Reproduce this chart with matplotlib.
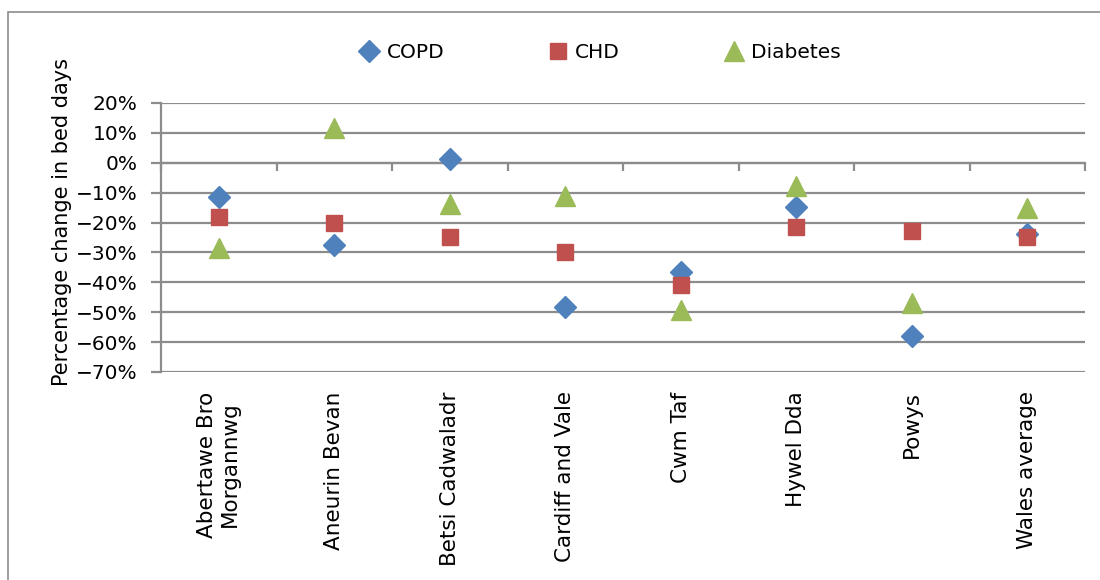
import numpy as np
import matplotlib.pyplot as plt
from matplotlib.patches import Rectangle
from matplotlib.ticker import PercentFormatter

#======data=========#
boards = ["Abertawe Bro\nMorgannwg", "Aneurin Bevan", "Betsi Cadwaladr", "Cardiff and Vale",
          "Cwm Taf", "Hywel Dda", "Powys", "Wales average"]
copd = [-11.4, -27.4, 1.3, -48.3, -36.5, -14.7, -57.8, -23.7]
chd = [-18.2, -20.0, -24.7, -30.0, -41.0, -21.4, -22.9, -24.9]
diabetes = [-28.4, 11.8, -13.7, -11.0, -49.3, -7.7, -47.0, -15.0]

yticks = np.arange(-70, 21, 10)

#======style=========#
plt.rcParams['font.family'] = ['DejaVu Sans']
grid_col = '#8c8c8c'

fig = plt.figure(figsize=(11, 5.8), dpi=100)
ax = fig.add_axes([161/1100, 1-372/580, (1085-161)/1100, (372-103)/580])

x = np.arange(len(boards))
ax.plot(x, copd, linestyle='none', marker='D', markersize=11.5, color='#4F81BD', label='COPD', zorder=3)
ax.plot(x, chd, linestyle='none', marker='s', markersize=12, color='#C0504D', label='CHD', zorder=3)
ax.plot(x, diabetes, linestyle='none', marker='^', markersize=15, color='#9BBB59', label='Diabetes', zorder=3)

ax.set_xlim(-0.5, len(boards)-0.5)
ax.set_ylim(-70, 20)
ax.set_yticks(yticks)
ax.yaxis.set_major_formatter(PercentFormatter(decimals=0))
ax.grid(axis='y', color=grid_col, linewidth=1.6)
ax.set_axisbelow(True)
ax.tick_params(axis='y', length=7, width=1.6, color=grid_col, labelsize=14.5, pad=10)

ax.set_xticks(x)
ax.set_xticklabels(boards, rotation=90, fontsize=15.5, multialignment='center')
ax.tick_params(axis='x', length=0, pad=14)

for s in ['top', 'right', 'bottom']:
    ax.spines[s].set_visible(False)
ax.spines['left'].set_color(grid_col)
ax.spines['left'].set_linewidth(1.6)

# category axis crossing at zero
sec = ax.secondary_xaxis(70/90)
sec.set_xticks(np.arange(-0.5, len(boards), 1.0))
sec.xaxis.set_ticks_position('bottom')
sec.tick_params(axis='x', which='both', top=False, bottom=True, labeltop=False, labelbottom=False,
                length=6, width=1.6, color=grid_col, direction='out')
for s in sec.spines.values():
    s.set_color(grid_col)
    s.set_linewidth(1.6)

fig.text(62/1100, 1-222/580, 'Percentage change in bed days', rotation=90,
         ha='center', va='center', fontsize=15)

fig.legend(loc='center', bbox_to_anchor=(0.545, 1-53/580), ncol=3, frameon=False,
           fontsize=14.5, columnspacing=5.1, handletextpad=0.3, handlelength=1.1)

fig.patches.append(Rectangle((8/1100, -0.01), 1.1, 1-12/580+0.01, transform=fig.transFigure,
                             fill=False, edgecolor='#8c8c8c', linewidth=1.2))

plt.savefig('out.png', dpi=100)
